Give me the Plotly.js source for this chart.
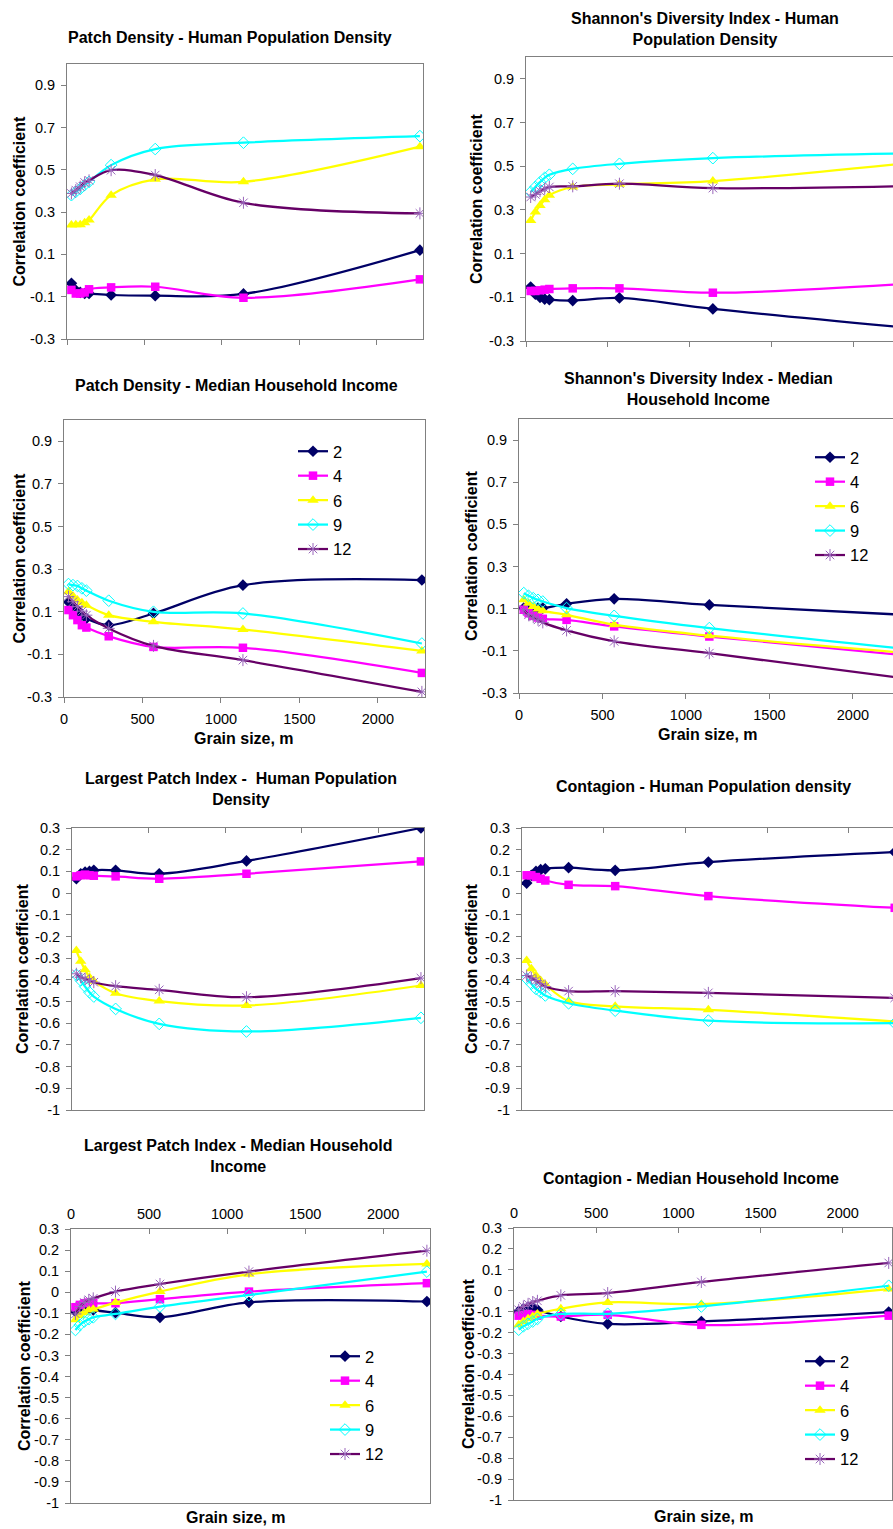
<!DOCTYPE html>
<html>
<head>
<meta charset="utf-8">
<script src="https://cdn.plot.ly/plotly-3.0.1.min.js"></script>
<style>
html, body { margin: 0; padding: 0; overflow: hidden; background: #fff; }
#chart { width: 910px; height: 1529px; }
</style>
</head>
<body>
<div id="chart"></div>
<script>
// ---------------- DATA ----------------
const grainSize = [28.5, 57, 85.5, 114, 142.5, 285, 570, 1140, 2280];
const seriesNames = ['2', '4', '6', '9', '12'];

// Patch Density - Human Population Density
const pdPop2  = [-0.037, -0.07, -0.08, -0.085, -0.085, -0.092, -0.095, -0.087, 0.12];
const pdPop4  = [-0.068, -0.085, -0.085, -0.08, -0.065, -0.056, -0.053, -0.105, -0.018];
const pdPop6  = [0.239, 0.24, 0.24, 0.25, 0.262, 0.38, 0.455, 0.443, 0.609];
const pdPop9  = [0.38, 0.396, 0.41, 0.428, 0.443, 0.522, 0.598, 0.628, 0.659];
const pdPop12 = [0.388, 0.404, 0.42, 0.44, 0.45, 0.498, 0.475, 0.344, 0.294];

// Shannon's Diversity Index - Human Population Density
const shPop2  = [-0.053, -0.086, -0.1, -0.108, -0.111, -0.115, -0.103, -0.153, -0.236];
const shPop4  = [-0.071, -0.071, -0.068, -0.065, -0.062, -0.059, -0.059, -0.079, -0.04];
const shPop6  = [0.252, 0.29, 0.32, 0.347, 0.367, 0.405, 0.417, 0.432, 0.51];
const shPop9  = [0.382, 0.405, 0.427, 0.447, 0.461, 0.488, 0.511, 0.537, 0.558];
const shPop12 = [0.359, 0.371, 0.386, 0.397, 0.405, 0.408, 0.42, 0.4, 0.409];

// Patch Density - Median Household Income
const pdInc2  = [0.147, 0.124, 0.108, 0.084, 0.069, 0.037, 0.092, 0.225, 0.249];
const pdInc4  = [0.108, 0.084, 0.061, 0.037, 0.026, -0.015, -0.065, -0.069, -0.187];
const pdInc6  = [0.194, 0.174, 0.155, 0.142, 0.131, 0.084, 0.053, 0.017, -0.084];
const pdInc9  = [0.23, 0.225, 0.221, 0.21, 0.199, 0.152, 0.1, 0.092, -0.049];
const pdInc12 = [0.171, 0.147, 0.124, 0.103, 0.084, 0.022, -0.06, -0.127, -0.276];

// Shannon's Diversity Index - Median Household Income
const shInc2  = [0.103, 0.095, 0.098, 0.103, 0.103, 0.123, 0.147, 0.118, 0.072];
const shInc4  = [0.095, 0.079, 0.066, 0.058, 0.052, 0.047, 0.016, -0.032, -0.118];
const shInc6  = [0.142, 0.126, 0.11, 0.098, 0.09, 0.071, 0.024, -0.028, -0.107];
const shInc9  = [0.174, 0.161, 0.15, 0.142, 0.134, 0.103, 0.066, 0.008, -0.088];
const shInc12 = [0.095, 0.071, 0.06, 0.047, 0.035, -0.003, -0.055, -0.111, -0.228];

// Largest Patch Index - Human Population Density
const lpiPop2  = [0.066, 0.089, 0.097, 0.1, 0.105, 0.105, 0.089, 0.148, 0.3];
const lpiPop4  = [0.077, 0.082, 0.085, 0.082, 0.08, 0.077, 0.066, 0.089, 0.146];
const lpiPop6  = [-0.265, -0.314, -0.354, -0.388, -0.406, -0.462, -0.498, -0.518, -0.426];
const lpiPop9  = [-0.377, -0.403, -0.431, -0.457, -0.477, -0.534, -0.603, -0.638, -0.575];
const lpiPop12 = [-0.372, -0.388, -0.395, -0.403, -0.411, -0.429, -0.446, -0.48, -0.392];

// Contagion - Human Population density
const ctPop2  = [0.046, 0.082, 0.1, 0.108, 0.112, 0.117, 0.105, 0.143, 0.189];
const ctPop4  = [0.082, 0.082, 0.074, 0.066, 0.058, 0.038, 0.032, -0.014, -0.068];
const ctPop6  = [-0.311, -0.349, -0.38, -0.403, -0.422, -0.498, -0.522, -0.538, -0.592];
const ctPop9  = [-0.395, -0.418, -0.442, -0.457, -0.472, -0.508, -0.542, -0.588, -0.6];
const ctPop12 = [-0.38, -0.391, -0.403, -0.418, -0.431, -0.452, -0.452, -0.46, -0.483];

// Largest Patch Index - Median Household Income
const lpiInc2  = [-0.092, -0.071, -0.068, -0.076, -0.084, -0.097, -0.119, -0.048, -0.044];
const lpiInc4  = [-0.071, -0.06, -0.052, -0.049, -0.052, -0.052, -0.033, 0.003, 0.043];
const lpiInc6  = [-0.131, -0.112, -0.097, -0.084, -0.081, -0.049, 0.003, 0.085, 0.134];
const lpiInc9  = [-0.179, -0.155, -0.139, -0.128, -0.119, -0.103, -0.068, -0.013, 0.098];
const lpiInc12 = [-0.103, -0.068, -0.049, -0.036, -0.029, 0.003, 0.039, 0.098, 0.197];

// Contagion - Median Household Income
const ctInc2  = [-0.099, -0.088, -0.08, -0.078, -0.091, -0.123, -0.158, -0.147, -0.102];
const ctInc4  = [-0.119, -0.115, -0.111, -0.115, -0.119, -0.123, -0.115, -0.163, -0.119];
const ctInc6  = [-0.163, -0.147, -0.134, -0.123, -0.111, -0.086, -0.056, -0.064, 0.008];
const ctInc9  = [-0.186, -0.17, -0.158, -0.147, -0.135, -0.111, -0.11, -0.075, 0.024];
const ctInc12 = [-0.091, -0.075, -0.064, -0.054, -0.048, -0.022, -0.011, 0.042, 0.133];

const panelTitles = [
  'Patch Density - Human Population Density',
  "Shannon's Diversity Index - Human<br>Population Density",
  'Patch Density - Median Household Income',
  "Shannon's Diversity Index - Median<br>Household Income",
  'Largest Patch Index -  Human Population<br>Density',
  'Contagion - Human Population density',
  'Largest Patch Index - Median Household<br>Income',
  'Contagion - Median Household Income'
];
const yTitle = 'Correlation coefficient';
const xTitle = 'Grain size, m';

const xTickVals = [0, 500, 1000, 1500, 2000];
const xTickText = ['0', '500', '1000', '1500', '2000'];
const yTickValsA = [-0.3, -0.1, 0.1, 0.3, 0.5, 0.7, 0.9];
const yTickTextA = ['-0.3', '-0.1', '0.1', '0.3', '0.5', '0.7', '0.9'];
const yTickValsB = [-1, -0.9, -0.8, -0.7, -0.6, -0.5, -0.4, -0.3, -0.2, -0.1, 0, 0.1, 0.2, 0.3];
const yTickTextB = ['-1', '-0.9', '-0.8', '-0.7', '-0.6', '-0.5', '-0.4', '-0.3', '-0.2', '-0.1', '0', '0.1', '0.2', '0.3'];

const panelData = [
  [pdPop2, pdPop4, pdPop6, pdPop9, pdPop12],
  [shPop2, shPop4, shPop6, shPop9, shPop12],
  [pdInc2, pdInc4, pdInc6, pdInc9, pdInc12],
  [shInc2, shInc4, shInc6, shInc9, shInc12],
  [lpiPop2, lpiPop4, lpiPop6, lpiPop9, lpiPop12],
  [ctPop2, ctPop4, ctPop6, ctPop9, ctPop12],
  [lpiInc2, lpiInc4, lpiInc6, lpiInc9, lpiInc12],
  [ctInc2, ctInc4, ctInc6, ctInc9, ctInc12]
];

// ---------------- STYLE / LAYOUT ----------------
const W = 910, H = 1529;
const FONT = 'Liberation Sans, Arial, sans-serif';
const px = v => v / W;
const py = v => 1 - v / H;

const styles = [
  {line: '#000066', marker: {symbol: 'diamond', size: 9, color: '#000066'}},
  {line: '#ff00ff', marker: {symbol: 'square', size: 8.5, color: '#ff00ff'}},
  {line: '#ffff00', marker: {symbol: 'triangle-up', size: 10, color: '#ffff00'}},
  {line: '#00ffff', marker: {symbol: 'diamond-open', size: 9, color: '#00ffff', line: {width: 1, color: '#00ffff'}}},
  {line: '#660066', marker: {symbol: 'asterisk-open', size: 10, color: '#9966bb', line: {width: 1, color: '#9966bb'}}}
];

// plot-area boxes in pixels
const boxes = [
  {x0: 67,  x1: 423, y0: 64,   y1: 339,  yr: 'A', xmode: 'bottomNoLabel', leg: null},
  {x0: 526, x1: 903, y0: 57,   y1: 341,  yr: 'A', xmode: 'bottomNoLabel', leg: null},
  {x0: 64,  x1: 425, y0: 420,  y1: 697,  yr: 'A', xmode: 'bottom', leg: 'legend'},
  {x0: 519, x1: 903, y0: 419,  y1: 693,  yr: 'A', xmode: 'bottom', leg: 'legend2'},
  {x0: 72,  x1: 424, y0: 828,  y1: 1110, yr: 'B', xmode: 'topNoLabel', leg: null},
  {x0: 522, x1: 898, y0: 828,  y1: 1110, yr: 'B', xmode: 'topNoLabel', leg: null},
  {x0: 71,  x1: 430, y0: 1229, y1: 1503, yr: 'B', xmode: 'top', leg: 'legend3'},
  {x0: 514, x1: 892, y0: 1228, y1: 1500, yr: 'B', xmode: 'top', leg: 'legend4'}
];

const titlePos = [[230, 37], [705, 29], [236, 385], [698, 389], [241, 789], [703, 787], [238, 1156], [691, 1178]];
const yTitlePos = [19, 477, 19, 471, 22, 471, 24, 468];
const xTitlePos = [null, null, [244, 738], [708, 734], null, null, [236, 1517], [704, 1516]];
const legendPos = [null, null, [293, 434], [810, 440], null, null, [325, 1339], [800, 1344]];

const traces = [];
const layout = {
  width: W, height: H,
  margin: {l: 0, r: 0, t: 0, b: 0},
  paper_bgcolor: '#fff', plot_bgcolor: '#fff',
  font: {family: FONT, color: '#000', size: 14},
  annotations: []
};

boxes.forEach((b, i) => {
  const n = i + 1;
  const xa = 'x' + (n === 1 ? '' : n), ya = 'y' + (n === 1 ? '' : n);
  const xk = 'xaxis' + (n === 1 ? '' : n), yk = 'yaxis' + (n === 1 ? '' : n);
  const top = b.xmode.startsWith('top');
  layout[xk] = {
    domain: [px(b.x0), px(b.x1)], anchor: ya, range: [0, 2300],
    tickmode: 'array', tickvals: xTickVals, ticktext: xTickText,
    showticklabels: !b.xmode.endsWith('NoLabel'),
    side: top ? 'top' : 'bottom',
    ticks: top ? 'inside' : 'outside', ticklen: 5, tickcolor: '#808080',
    ticklabelstandoff: top ? 3 : 4,
    showline: true, linecolor: '#808080', linewidth: 1, mirror: true,
    showgrid: false, zeroline: false, fixedrange: true,
    tickfont: {family: FONT, size: 14.5, color: '#000'}
  };
  const A = b.yr === 'A';
  layout[yk] = {
    domain: [py(b.y1), py(b.y0)], anchor: xa,
    range: A ? [-0.3, 1.0] : [-1, 0.3],
    tickmode: 'array', tickvals: A ? yTickValsA : yTickValsB, ticktext: A ? yTickTextA : yTickTextB,
    ticks: 'outside', ticklen: 5, tickcolor: '#808080', ticklabelstandoff: 3,
    showline: true, linecolor: '#808080', linewidth: 1, mirror: true,
    showgrid: false, zeroline: false, fixedrange: true,
    tickfont: {family: FONT, size: 14.5, color: '#000'}
  };

  panelData[i].forEach((vals, s) => {
    const st = styles[s];
    const t = {
      type: 'scatter', mode: 'lines+markers',
      x: grainSize, y: vals, name: seriesNames[s],
      xaxis: xa, yaxis: ya,
      line: {color: st.line, width: 2.25, shape: 'spline', smoothing: 1},
      marker: st.marker, cliponaxis: true,
      showlegend: !!b.leg
    };
    if (b.leg) t.legend = b.leg;
    traces.push(t);
  });

  if (b.leg) {
    const lp = legendPos[i];
    layout[b.leg] = {
      x: px(lp[0]), y: py(lp[1]), xanchor: 'left', yanchor: 'top',
      xref: 'paper', yref: 'paper',
      bgcolor: 'rgba(0,0,0,0)', borderwidth: 0, itemwidth: 30,
      font: {family: FONT, size: 16.5, color: '#000'},
      traceorder: 'normal'
    };
  }

  layout.annotations.push({
    text: '<b>' + panelTitles[i] + '</b>', xref: 'paper', yref: 'paper',
    x: px(titlePos[i][0]), y: py(titlePos[i][1]), xanchor: 'center', yanchor: 'middle',
    showarrow: false, font: {family: FONT, size: 16, color: '#000'}
  });
  layout.annotations.push({
    text: '<b>' + yTitle + '</b>', xref: 'paper', yref: 'paper', textangle: -90,
    x: px(yTitlePos[i]), y: py((b.y0 + b.y1) / 2), xanchor: 'center', yanchor: 'middle',
    showarrow: false, font: {family: FONT, size: 16, color: '#000'}
  });
  if (xTitlePos[i]) {
    layout.annotations.push({
      text: '<b>' + xTitle + '</b>', xref: 'paper', yref: 'paper',
      x: px(xTitlePos[i][0]), y: py(xTitlePos[i][1]), xanchor: 'center', yanchor: 'middle',
      showarrow: false, font: {family: FONT, size: 16, color: '#000'}
    });
  }
});

Plotly.newPlot('chart', traces, layout, {displayModeBar: false, staticPlot: true});
</script>
</body>
</html>
